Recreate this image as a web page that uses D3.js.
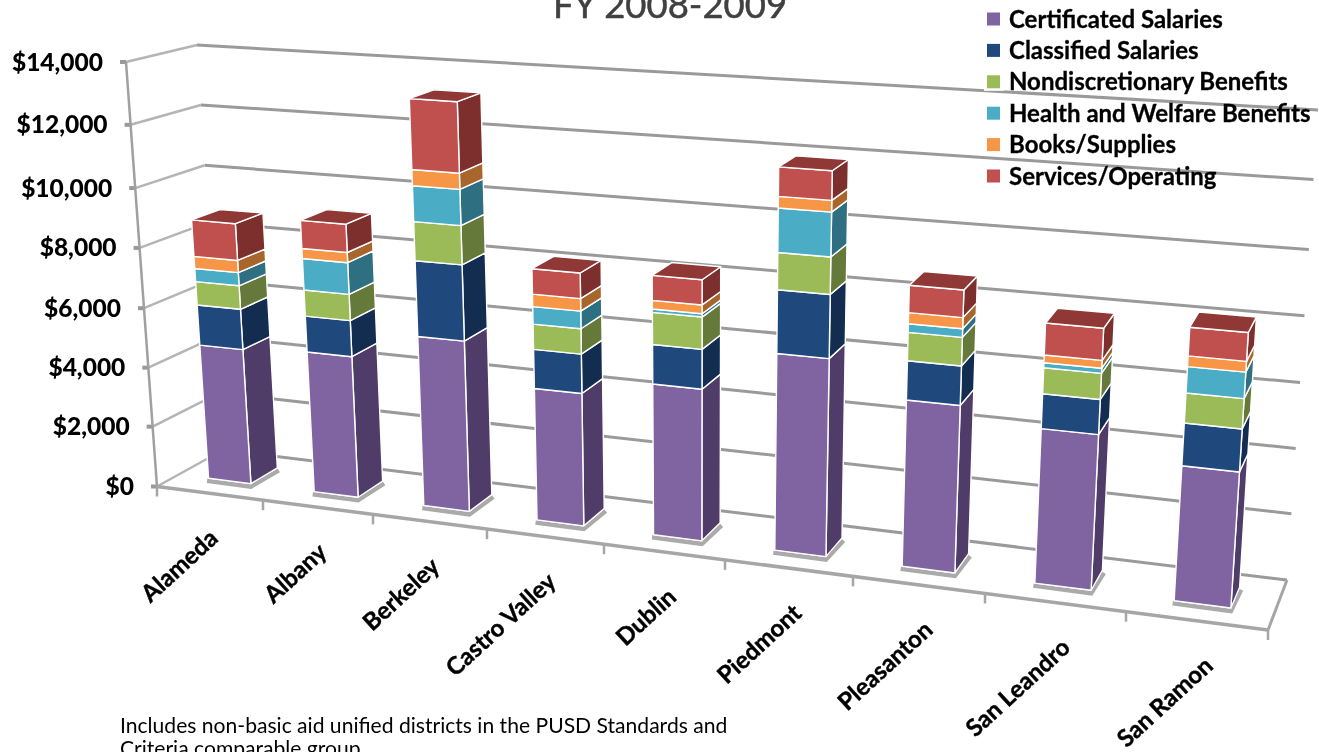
<!DOCTYPE html>
<html><head><meta charset="utf-8">
<script src="https://cdn.jsdelivr.net/npm/d3@7"></script>
<style>
html,body{margin:0;padding:0;background:#fff;overflow:hidden;width:1319px;height:752px}
svg{display:block;font-family:Lato,"Open Sans",sans-serif;filter:blur(0.45px)}
</style></head><body>
<svg id="c" width="1319" height="752"></svg>
<script>
const categories = ["Alameda","Albany","Berkeley","Castro Valley","Dublin","Piedmont","Pleasanton","San Leandro","San Ramon"];
const seriesNames = ["Certificated Salaries","Classified Salaries","Nondiscretionary Benefits","Health and Welfare Benefits","Books/Supplies","Services/Operating"];
const certificated = [4530,4680,5580,4270,4815,6180,5140,4695,4030];
const classified   = [1365,1200,2470,1270,1265,1976,1210,1060,1275];
const nondiscretionary = [785,865,1280,815,1010,1164,865,780,895];
const healthWelfare = [440,1040,1150,560,105,1350,260,150,775];
const booksSupplies = [405,335,500,400,275,345,340,235,315];
const servicesOperating = [1230,935,2210,815,790,870,840,955,845];
const series = [certificated,classified,nondiscretionary,healthWelfare,booksSupplies,servicesOperating];
const yTicks = [0,2000,4000,6000,8000,10000,12000,14000];
const titleText = "FY 2008-2009";
const noteLines = ["Includes non-basic aid unified districts in the PUSD Standards and","Criteria comparable group."];

const frontColors = ["#8064A2","#1F497D","#9BBB59","#4BACC6","#F79646","#C0504D"];
const sideColors  = ["#503C68","#122D4F","#65793A","#2E6F81","#A8652C","#7C2F2D"];
const topColor = "#8F3836";
const gridColor = "#9a9a9a", wallColor = "#b4b4b4";

const svg = d3.select("#c");
// perspective box: t = category position along the floor, v = value, d = depth (0 front, 1 back)
const edgeX = d3.scaleLinear().domain(d3.range(10)).range([157,263,373,487,604,725,853,985,1126,1268]);
const uOf = d3.scaleLinear().domain([157,1268]).range([0,1]);
const fOf = d3.scaleLinear().domain(yTicks).range([0,.141,.28,.42,.562,.703,.852,1]);
const fbx = d3.scaleLinear().range([157,1268]), fby = d3.scaleLinear().range([486.5,630]);
const ftx = d3.scaleLinear().range([126,1302]), fty = d3.scaleLinear().range([62,138]);
const bbx = d3.scaleLinear().range([223,1287]), bby = d3.scaleLinear().range([450,580]);
const btx = d3.scaleLinear().range([197,1318]), bty = d3.scaleLinear().range([45,110]);
function project(t,v,d){
  const u = uOf(edgeX(t)), f = fOf(v);
  const fx = fbx(u)+(ftx(u)-fbx(u))*f, fy = fby(u)+(fty(u)-fby(u))*f;
  const bx = bbx(u)+(btx(u)-bbx(u))*f, by = bby(u)+(bty(u)-bby(u))*f;
  return [fx+(bx-fx)*d, fy+(by-fy)*d];
}
const line = d3.line();
const poly = pts => line(pts)+"Z";

// walls
const gGrid = svg.append("g");
yTicks.forEach(v=>{
  gGrid.append("path").attr("d",line([project(0,v,1),project(9,v,1)])).attr("fill","none").attr("stroke",gridColor).attr("stroke-width",3);
  gGrid.append("path").attr("d",line([project(0,v,0),project(0,v,1)])).attr("fill","none").attr("stroke",wallColor).attr("stroke-width",2.5);
  const p = project(0,v,0);
  gGrid.append("path").attr("d",line([[p[0]-6,p[1]],[p[0],p[1]]])).attr("stroke","#999").attr("stroke-width",4);
  svg.append("text").attr("x",p[0]-23).attr("y",p[1]+8.5).attr("text-anchor","end").attr("font-size",24.5).attr("font-weight",900).attr("fill","#000").text(d3.format("$,")(v));
});
gGrid.append("path").attr("d",line([project(0,0,0),project(0,14000,0)])).attr("fill","none").attr("stroke","#a0a0a0").attr("stroke-width",2.5);
gGrid.append("path").attr("d",line([project(0,0,0),project(9,0,0)])).attr("fill","none").attr("stroke","#a6a6a6").attr("stroke-width",3.5);
gGrid.append("path").attr("d",line([project(9,0,0),project(9,0,1)])).attr("fill","none").attr("stroke","#a6a6a6").attr("stroke-width",3);
d3.range(10).forEach(i=>{
  const p = project(i,0,0);
  gGrid.append("path").attr("d",line([[p[0],p[1]],[p[0],p[1]+10]])).attr("stroke","#a6a6a6").attr("stroke-width",2.5);
});

// bars
const f0=.285,f1=.69,d0=.33,d1=.75;
const stacked = d3.stack().keys(d3.range(series.length)).value((d,k)=>series[k][d])(d3.range(categories.length));
const gBars = svg.append("g");
categories.forEach((c,i)=>{
  const t0=i+f0,t1=i+f1;
  const g = gBars.append("g");
  const a=project(t0,0,d0),b=project(t1,0,d0),e=project(t1,0,d1);
  g.append("path").attr("d",line([[a[0]-1.5,a[1]+2.5],[b[0],b[1]+3],[e[0]+1.5,e[1]+2.5]])).attr("fill","none").attr("stroke","#aaa").attr("stroke-width",4.5);
  stacked.forEach((s,k)=>{
    const [v0,v1]=s[i];
    g.append("path").attr("d",poly([project(t1,v0,d0),project(t1,v0,d1),project(t1,v1,d1),project(t1,v1,d0)]))
      .attr("fill",sideColors[k]).attr("stroke","#fff").attr("stroke-width",1.4).attr("stroke-linejoin","round");
    g.append("path").attr("d",poly([project(t0,v0,d0),project(t1,v0,d0),project(t1,v1,d0),project(t0,v1,d0)]))
      .attr("fill",frontColors[k]).attr("stroke","#fff").attr("stroke-width",1.4).attr("stroke-linejoin","round");
    if(k===stacked.length-1){
      g.append("path").attr("d",poly([project(t0,v1,d0),project(t1,v1,d0),project(t1,v1,d1),project(t0,v1,d1)]))
        .attr("fill",topColor).attr("stroke","#fff").attr("stroke-width",1.4).attr("stroke-linejoin","round");
    }
  });
  const m=project(i+.5,0,0);
  svg.append("text").attr("transform",`translate(${m[0]+9+9*uOf(m[0])},${m[1]+47}) rotate(-42.5)`).attr("text-anchor","end")
    .attr("font-size",24).attr("font-weight",700).attr("fill","#000").attr("stroke","#000").attr("stroke-width",.4).text(c);
});

// title
svg.append("text").attr("x",670).attr("y",18).attr("text-anchor","middle").attr("font-size",36.5).attr("fill","#404040").attr("stroke","#404040").attr("stroke-width",.5).text(titleText);

// legend
const legY = d3.scalePoint().domain(seriesNames).range([19,176]);
seriesNames.forEach((n,k)=>{
  svg.append("rect").attr("x",984).attr("y",legY(n)-9).attr("width",20).attr("height",18).attr("fill","#fff");
  svg.append("rect").attr("x",987).attr("y",legY(n)-6.5).attr("width",13).attr("height",13).attr("fill",frontColors[k]);
  svg.append("text").attr("x",1009).attr("y",legY(n)+8.5).attr("font-size",24).attr("font-weight",700).attr("fill","#000").attr("stroke","#000").attr("stroke-width",.3).text(n);
});

// note
noteLines.forEach((l,i)=>{
  svg.append("text").attr("x",120).attr("y",733+i*23).attr("font-size",21.1).attr("fill","#000").text(l);
});
</script>
</body></html>
